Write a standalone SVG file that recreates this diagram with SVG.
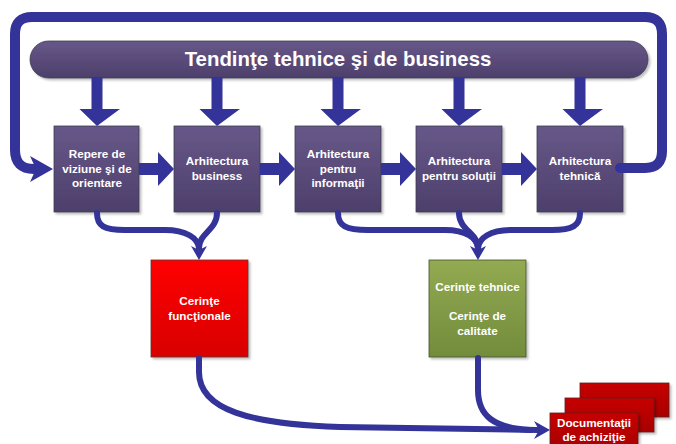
<svg xmlns="http://www.w3.org/2000/svg" width="676" height="444" viewBox="0 0 676 444">
<style>
  .lbl{font-family:"Liberation Sans",Arial,sans-serif;font-weight:bold;font-size:11.7px;fill:#fff;text-anchor:middle}
  .ttl{font-family:"Liberation Sans",Arial,sans-serif;font-weight:bold;font-size:20.4px;fill:#fff;text-anchor:middle}
  .box{fill:url(#gp);stroke:#3e3e4e;stroke-width:0.8;filter:url(#sh)}
  .blk{fill:#333399}
  .con{fill:none;stroke:#333399;stroke-width:6;stroke-linecap:round;stroke-linejoin:round}
  .loop{fill:none;stroke:#333399;stroke-width:10;stroke-linecap:round;stroke-linejoin:round}
  .doc{fill:url(#gd);stroke:#5e1a1a;stroke-width:0.8;filter:url(#sh)}
</style>
<defs>
  <linearGradient id="gp" x1="0" y1="0" x2="0" y2="1"><stop offset="0" stop-color="#675889"/><stop offset="1" stop-color="#4d3f6b"/></linearGradient>
  <linearGradient id="gr" x1="0" y1="0" x2="0" y2="1"><stop offset="0" stop-color="#ff0000"/><stop offset="1" stop-color="#d80000"/></linearGradient>
  <linearGradient id="gg" x1="0" y1="0" x2="0" y2="1"><stop offset="0" stop-color="#93aa52"/><stop offset="1" stop-color="#728c3c"/></linearGradient>
  <linearGradient id="gd" x1="0" y1="0" x2="0" y2="1"><stop offset="0" stop-color="#c60000"/><stop offset="1" stop-color="#a80000"/></linearGradient>
  <filter id="sh" x="-10%" y="-10%" width="130%" height="130%"><feDropShadow dx="2" dy="2" stdDeviation="1" flood-color="#000" flood-opacity="0.25"/></filter>
</defs>

<g id="banner">
  <rect x="30" y="41" width="618" height="37" rx="18.5" class="box"/>
  <text x="338" y="66" class="ttl">Tendinţe tehnice şi de business</text>
</g>

<g id="n1"><rect x="54" y="126" width="85" height="86" class="box"/>
  <text class="lbl" x="97" y="158">Repere de</text><text class="lbl" x="97" y="172.5">viziune şi de</text><text class="lbl" x="97" y="187">orientare</text></g>
<g id="n2"><rect x="174" y="126" width="86" height="86" class="box"/>
  <text class="lbl" x="217" y="165">Arhitectura</text><text class="lbl" x="217" y="179.5">business</text></g>
<g id="n3"><rect x="295" y="126" width="86" height="86" class="box"/>
  <text class="lbl" x="338" y="158">Arhitectura</text><text class="lbl" x="338" y="172.5">pentru</text><text class="lbl" x="338" y="187">informaţii</text></g>
<g id="n4"><rect x="416" y="126" width="86" height="86" class="box"/>
  <text class="lbl" x="459" y="165">Arhitectura</text><text class="lbl" x="459" y="179.5">pentru soluţii</text></g>
<g id="n5"><rect x="537" y="126" width="86" height="86" class="box"/>
  <text class="lbl" x="580" y="165">Arhitectura</text><text class="lbl" x="580" y="179.5">tehnică</text></g>

<g id="n6"><rect x="151" y="260" width="97" height="97" style="fill:url(#gr);stroke:#5a3030;stroke-width:0.8;filter:url(#sh)"/>
  <text class="lbl" x="199.5" y="305">Cerinţe</text><text class="lbl" x="199.5" y="319.5">funcţionale</text></g>
<g id="n7"><rect x="429" y="260" width="97" height="97" style="fill:url(#gg);stroke:#44502a;stroke-width:0.8;filter:url(#sh)"/>
  <text class="lbl" x="477.5" y="291">Cerinţe tehnice</text><text class="lbl" x="477.5" y="320">Cerinţe de</text><text class="lbl" x="477.5" y="334.5">calitate</text></g>
<g id="n8">
  <rect x="580" y="383" width="89" height="34" class="doc"/>
  <rect x="565" y="398" width="89" height="34" class="doc"/>
  <rect x="550" y="413" width="88" height="36" class="doc"/>
  <text class="lbl" x="594" y="427">Documentaţii</text><text class="lbl" x="594" y="441">de achiziţie</text></g>

<g id="connectors">
  <!-- banner down arrows -->
  <path class="blk" d="M91.5,77 h11 v32 h17.5 L97,126 L79.5,109 h12 z"/>
  <path class="blk" d="M211.5,77 h11 v32 h17.5 L217,126 L199.5,109 h12 z"/>
  <path class="blk" d="M332.5,77 h11 v32 h17.5 L338,126 L320.5,109 h12 z"/>
  <path class="blk" d="M453.5,77 h11 v32 h17.5 L459,126 L441.5,109 h12 z"/>
  <path class="blk" d="M574.5,77 h11 v32 h17.5 L580,126 L562.5,109 h12 z"/>
  <!-- horizontal block arrows -->
  <path class="blk" d="M139,163 h19 v-11 L174,169 L158,186 v-11 h-19 z"/>
  <path class="blk" d="M260,163 h19 v-11 L295,169 L279,186 v-11 h-19 z"/>
  <path class="blk" d="M381,163 h19 v-11 L416,169 L400,186 v-11 h-19 z"/>
  <path class="blk" d="M502,163 h19 v-11 L537,169 L521,186 v-11 h-19 z"/>
  <!-- loop -->
  <path class="loop" d="M620,168 L645,168 Q662,168 662,151 L662,34 Q662,17 645,17 L32,17 Q15,17 15,34 L15,150 Q15,169 34,169 L38,169"/>
  <path class="blk" d="M30,156 L53,169 L30,182 L36,169 z"/>
  <!-- to red -->
  <path class="con" d="M97,213 C97,226 104,230 125,230 L165,230 C186,230 198,238 199,248"/>
  <path class="con" d="M217,213 C217,230 199,233 199,248"/>
  <path class="blk" d="M191,246 L199,260 L207,246 L199,250 z"/>
  <!-- to green -->
  <path class="con" d="M338,213 C338,226 346,230 368,230 L445,230 C466,230 477,238 478,248"/>
  <path class="con" d="M459,213 C459,230 478,233 478,248"/>
  <path class="con" d="M580,213 C580,226 572,230 552,230 L512,230 C490,230 479,238 478,248"/>
  <path class="blk" d="M470,246 L478,260 L486,246 L478,250 z"/>
  <!-- to documents -->
  <path class="con" d="M199,358 L199,372 C199,410 250,424 340,427 L538,430"/>
  <path class="con" d="M478,358 L478,390 C478,416 494,428 530,430"/>
  <path class="blk" d="M534,421 L550,430 L534,439 L539,430 z"/>
</g>
</svg>
